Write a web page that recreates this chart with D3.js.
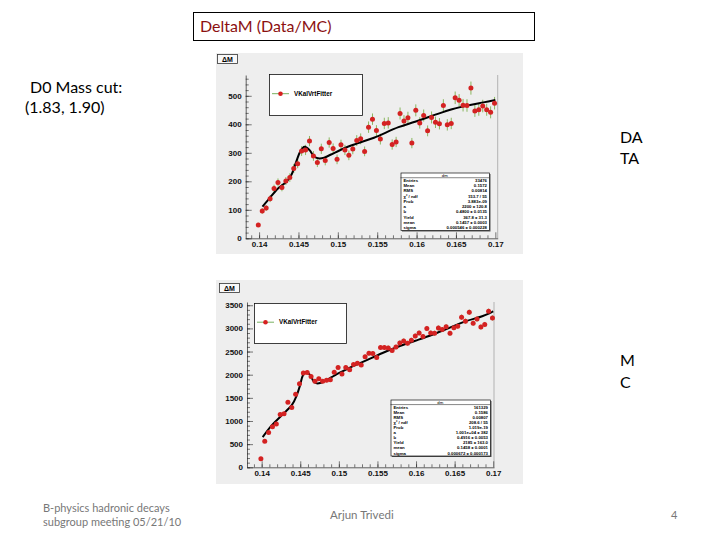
<!DOCTYPE html>
<html><head><meta charset="utf-8">
<script src="https://cdn.jsdelivr.net/npm/d3@7"></script>
<style>
body{margin:0;background:#fff;}
svg{display:block;}
</style></head>
<body>
<svg id="s" width="720" height="540"></svg>
<script>
// ---- data ----
const binCenters = [0.1399,0.1404,0.1409,0.1414,0.1419,0.1424,0.1429,0.1434,0.1439,0.1444,
  0.1449,0.1454,0.1459,0.1464,0.1469,0.1474,0.1479,0.1484,0.1489,0.1494,
  0.1499,0.1504,0.1509,0.1514,0.1519,0.1524,0.1529,0.1534,0.1539,0.1544,
  0.1549,0.1554,0.1559,0.1564,0.1569,0.1574,0.1579,0.1584,0.1589,0.1594,
  0.1599,0.1604,0.1609,0.1614,0.1619,0.1624,0.1629,0.1634,0.1639,0.1644,
  0.1649,0.1654,0.1659,0.1664,0.1669,0.1674,0.1679,0.1684,0.1689,0.1694,0.1699];
const dataCounts = [47,96,106,139,175,196,178,201,213,245,
  262,306,310,341,289,266,314,273,336,315,
  277,328,310,291,313,343,349,305,390,418,
  378,348,403,405,329,338,438,412,423,334,
  449,405,431,377,424,407,402,466,398,403,
  493,484,467,466,527,447,451,464,451,442,474];
const dataErrors = [7,10,10,12,13,14,13,14,15,16,16,17,18,18,17,16,18,17,18,18,
  17,18,18,17,18,19,19,17,20,20,19,19,20,20,18,18,21,20,21,18,
  21,20,21,19,21,20,20,22,20,20,22,22,22,22,23,21,21,22,21,21,22];
const mcCounts = [185,560,749,878,933,1139,1157,1406,1291,1579,
  1804,2035,2045,1959,1861,1912,1860,1882,1889,2053,
  2158,2013,2158,2107,2219,2245,2212,2386,2462,2458,
  2370,2590,2588,2578,2520,2596,2687,2730,2680,2745,
  2838,2900,2825,2998,2900,2897,3008,2976,3034,2893,
  3016,3048,3243,3156,3347,3113,3203,3030,3084,3370,3225];
const mcErrors = [14,24,27,30,31,34,34,37,36,40,42,45,45,44,43,44,43,43,43,45,
  46,45,46,46,47,47,47,49,50,50,49,51,51,51,50,51,52,52,52,52,
  53,54,53,55,54,54,55,55,55,54,55,55,57,56,58,56,57,55,56,58,57];
const dataFitX = [0.14043,0.14113,0.1424,0.14346,0.14409,0.14472,0.14526,0.14576,0.14639,0.14702,
  0.14765,0.14828,0.14913,0.15081,0.15248,0.15459,0.1577,0.1598,0.1620,0.1645,0.1668,0.1685,0.1700];
const dataFitY = [111,134,175,198,222,269,306,321,310,286,
  280,283,294,316,333,353,390,409,430,453,468,477,485];
const mcFitX = [0.14013,0.1413,0.1426,0.1439,0.14455,0.14498,0.14532,0.14571,0.14628,0.14671,
  0.14714,0.1477,0.14844,0.14952,0.15126,0.1534,0.15558,0.15775,0.15991,0.1621,0.16424,0.1664,0.16857,0.1700];
const mcFitY = [652,906,1123,1341,1558,1775,1978,2051,1993,1862,
  1812,1826,1884,1993,2138,2297,2464,2609,2732,2862,3007,3152,3261,3370];
const xTickValues = [0.14,0.145,0.15,0.155,0.16,0.165,0.17];
const xTickLabels = ["0.14","0.145","0.15","0.155","0.16","0.165","0.17"];
const dataYTicks = [0,100,200,300,400,500];
const mcYTicks = [0,500,1000,1500,2000,2500,3000,3500];
const legendLabel = "VKalVrtFitter";
const dataStats = [["Entries","33476"],["Mean","0.1572"],["RMS","0.00814"],["\u03c7\u00b2 / ndf","153.7 / 55"],["Prob","3.883e-09"],
  ["a","2200 \u00b1 120.8"],["b","0.4800 \u00b1 0.0135"],["Yield","367.8 \u00b1 31.3"],["mean","0.1457 \u00b1 0.0003"],["sigma","0.000546 \u00b1 0.000228"]];
const mcStats = [["Entries","161329"],["Mean","0.1586"],["RMS","0.00807"],["\u03c7\u00b2 / ndf","208.6 / 55"],["Prob","1.019e-19"],
  ["a","1.001e+04 \u00b1 382"],["b","0.4916 \u00b1 0.0053"],["Yield","2185 \u00b1 163.0"],["mean","0.1458 \u00b1 0.0001"],["sigma","0.000672 \u00b1 0.000173"]];

const svg = d3.select("#s");

// ---- slide text ----
svg.append("rect").attr("x",193.5).attr("y",12.5).attr("width",341).attr("height",28)
  .attr("fill","none").attr("stroke","#000").attr("stroke-width",1);
svg.append("text").attr("x",200).attr("y",32).attr("font-family","Lato, 'Open Sans', sans-serif")
  .attr("font-size",16).attr("fill","#8b1010").text("DeltaM (Data/MC)");
const body = (x,y,t,size=16,fill="#000",anchor="start")=>svg.append("text").attr("x",x).attr("y",y)
  .attr("font-family","Lato, 'Open Sans', sans-serif").attr("font-size",size).attr("fill",fill)
  .attr("text-anchor",anchor).text(t);
body(30,93,"D0 Mass cut:");
body(25,113,"(1.83, 1.90)");
body(620,143,"DA"); body(620,164,"TA");
body(620,366,"M"); body(620,388,"C");
body(43,512,"B-physics hadronic decays",11,"#777");
body(43,526,"subgroup meeting 05/21/10",11,"#777");
body(330,519,"Arjun Trivedi",11.5,"#777");
body(671,519,"4",11,"#777");

// ---- ROOT-like plot ----
function drawPlot(cfg){
  const g = svg.append("g");
  g.append("rect").attr("x",cfg.img[0]).attr("y",cfg.img[1]).attr("width",cfg.img[2]).attr("height",cfg.img[3])
    .attr("fill","#eeeeee");
  // title box
  g.append("rect").attr("x",cfg.title[0]+0.5).attr("y",cfg.title[1]+0.5).attr("width",20).attr("height",9)
    .attr("fill","#f8f8f8").attr("stroke","#333").attr("stroke-width",0.8);
  g.append("text").attr("x",cfg.title[0]+10.5).attr("y",cfg.title[1]+7.5).attr("text-anchor","middle")
    .attr("font-family","'Liberation Sans', Arial, sans-serif").attr("font-size",7).attr("font-weight","bold")
    .text("\u0394M");
  const x = d3.scaleLinear().domain(cfg.xd).range([cfg.fr[0],cfg.fr[2]]);
  const y = d3.scaleLinear().domain(cfg.yd).range([cfg.fr[3],cfg.fr[1]]);
  // frame right
  g.append("line").attr("x1",cfg.fr[2]).attr("x2",cfg.fr[2]).attr("y1",cfg.fr[1]).attr("y2",cfg.fr[3]).attr("stroke","#999").attr("stroke-width",0.7);
  // axes
  const font = "'Liberation Sans', Arial, sans-serif";
  const xMinor = d3.range(cfg.xd[0], cfg.xd[1], 0.001).map(v=>Math.round(v*1000)/1000).filter(v=>v>=cfg.xd[0]&&v<=cfg.xd[1]);
  const ax = g.append("g").attr("transform",`translate(0,${cfg.fr[3]})`)
    .call(d3.axisBottom(x).tickValues(xTickValues).tickFormat((d,i)=>xTickLabels[i]).tickSizeInner(-6).tickSizeOuter(0).tickPadding(3));
  g.append("g").attr("transform",`translate(0,${cfg.fr[3]})`)
    .call(d3.axisBottom(x).tickValues(xMinor).tickFormat("").tickSizeInner(-3).tickSizeOuter(0))
    .select(".domain").remove();
  const ay = g.append("g").attr("transform",`translate(${cfg.fr[0]},0)`)
    .call(d3.axisLeft(y).tickValues(cfg.yTicks).tickFormat(d3.format("d")).tickSizeInner(-6).tickSizeOuter(0).tickPadding(4));
  g.append("g").attr("transform",`translate(${cfg.fr[0]},0)`)
    .call(d3.axisLeft(y).tickValues(cfg.yMinor).tickFormat("").tickSizeInner(-3).tickSizeOuter(0))
    .select(".domain").remove();
  [ax,ay].forEach(a=>{a.selectAll("text").attr("font-family",font).attr("font-size",8).attr("font-weight","bold").attr("fill","#111");
    a.selectAll("line,path").attr("stroke","#222").attr("stroke-width",0.7);});
  g.selectAll(".tick line").attr("stroke","#222").attr("stroke-width",0.6);
  // legend box
  const L = cfg.leg;
  g.append("rect").attr("x",L[0]+0.5).attr("y",L[1]+0.5).attr("width",L[2]).attr("height",L[3]).attr("fill","#fff").attr("stroke","#111").attr("stroke-width",0.8);
  const ly = L[1]+L[3]*0.48;
  g.append("line").attr("x1",L[0]+3).attr("x2",L[0]+20).attr("y1",ly).attr("y2",ly).attr("stroke","#6aa84f").attr("stroke-width",0.9);
  g.append("circle").attr("cx",L[0]+11.5).attr("cy",ly).attr("r",2.3).attr("fill","#d62020");
  g.append("text").attr("x",L[0]+25).attr("y",ly+2.2).attr("font-family",font).attr("font-size",6.3).attr("font-weight","bold").text(legendLabel);
  // stats box
  const S = cfg.stats;
  g.append("rect").attr("x",S[0]+1.5).attr("y",S[1]+1.5).attr("width",S[2]).attr("height",S[3]).attr("fill","#555");
  g.append("rect").attr("x",S[0]+0.5).attr("y",S[1]+0.5).attr("width",S[2]).attr("height",S[3]).attr("fill","#fff").attr("stroke","#111").attr("stroke-width",0.7);
  const rh = S[3]/11;
  g.append("line").attr("x1",S[0]).attr("x2",S[0]+S[2]).attr("y1",S[1]+rh).attr("y2",S[1]+rh).attr("stroke","#111").attr("stroke-width",0.5);
  g.append("text").attr("x",S[0]+S[2]/2).attr("y",S[1]+rh-1).attr("text-anchor","middle").attr("font-family",font).attr("font-size",4.3).text("dm");
  cfg.statRows.forEach((r,i)=>{
    const yy = S[1]+rh*(i+2)-1;
    g.append("text").attr("x",S[0]+3).attr("y",yy).attr("font-family",font).attr("font-size",4.3).attr("font-weight","bold").text(r[0]);
    g.append("text").attr("x",S[0]+S[2]-2).attr("y",yy).attr("text-anchor","end").attr("font-family",font).attr("font-size",4.3).attr("font-weight","bold").text(r[1]);
  });
  // error bars
  const pts = binCenters.map((b,i)=>({x:b,y:cfg.counts[i],e:cfg.errs[i]}));
  g.append("g").selectAll("line").data(pts).join("line")
    .attr("x1",d=>x(d.x)).attr("x2",d=>x(d.x)).attr("y1",d=>y(d.y-d.e)).attr("y2",d=>y(d.y+d.e))
    .attr("stroke","#7fb050").attr("stroke-width",0.9);
  // fit
  const fit = cfg.fitX.map((v,i)=>[v,cfg.fitY[i]]);
  g.append("path").datum(fit).attr("d",d3.line().x(d=>x(d[0])).y(d=>y(d[1])).curve(d3.curveCatmullRom))
    .attr("fill","none").attr("stroke","#000").attr("stroke-width",2);
  // markers
  g.append("g").selectAll("circle").data(pts).join("circle")
    .attr("cx",d=>x(d.x)).attr("cy",d=>y(d.y)).attr("r",2.5).attr("fill","#d42222");
}

drawPlot({img:[216,53,307,201], title:[217,54], fr:[245.7,75,497.7,238.3], xd:[0.1383,0.1703], yd:[0,573],
  yTicks:dataYTicks, yMinor:d3.range(0,573,20), leg:[269,74,93,41], stats:[400.5,172.5,88.5,57.5],
  statRows:dataStats, counts:dataCounts, errs:dataErrors, fitX:dataFitX, fitY:dataFitY});
drawPlot({img:[216,280,307,204], title:[219,283], fr:[247,302,494,467.3], xd:[0.1381,0.1701], yd:[0,3570],
  yTicks:mcYTicks, yMinor:d3.range(0,3570,100), leg:[254,303,92,40], stats:[390.5,399.5,99.5,56],
  statRows:mcStats, counts:mcCounts, errs:mcErrors, fitX:mcFitX, fitY:mcFitY});
</script>
</body></html>
